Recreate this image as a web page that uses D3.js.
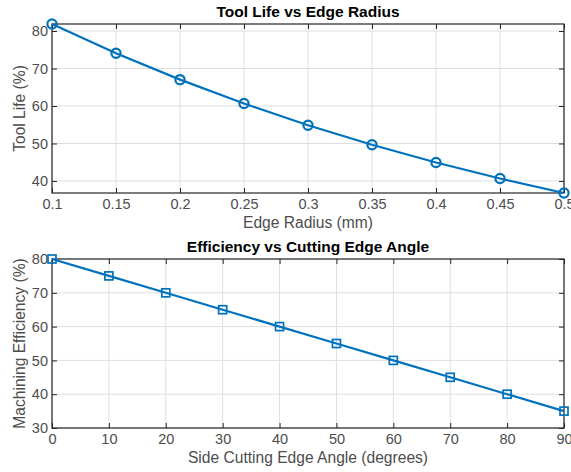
<!DOCTYPE html>
<html>
<head>
<meta charset="utf-8">
<script src="https://cdn.jsdelivr.net/npm/d3@7"></script>
<style>
  body { margin: 0; background: #fff; }
  svg { display: block; font-family: "Liberation Sans", Arial, sans-serif; }
</style>
</head>
<body>
<svg id="chart" width="571" height="472"></svg>
<script>
// Top panel: tool life vs edge radius
const edgeRadius = [0.1, 0.15, 0.2, 0.25, 0.3, 0.35, 0.4, 0.45, 0.5];
const toolLife = [81.87, 74.08, 67.03, 60.65, 54.88, 49.66, 44.93, 40.66, 36.79];
const radiusTicks = [0.1, 0.15, 0.2, 0.25, 0.3, 0.35, 0.4, 0.45, 0.5];
const lifeTicks = [40, 50, 60, 70, 80];

// Bottom panel: efficiency vs side cutting edge angle
const edgeAngle = [0, 10, 20, 30, 40, 50, 60, 70, 80, 90];
const efficiency = [80, 75, 70, 65, 60, 55, 50, 45, 40, 35];
const angleTicks = [0, 10, 20, 30, 40, 50, 60, 70, 80, 90];
const effTicks = [30, 40, 50, 60, 70, 80];

const svg = d3.select("#chart");
const lineColor = "#0072BD";
const axisColor = "#262626";
const tickText = "#4d4d4d";

function panel(opts) {
  const { top, bottom, left, right } = opts;
  const x = d3.scaleLinear().domain(opts.xDomain).range([left, right]);
  const y = d3.scaleLinear().domain(opts.yDomain).range([bottom, top]);
  const g = svg.append("g");

  // grid
  g.append("g").selectAll("line.gx").data(opts.xTicks).enter().append("line")
    .attr("x1", d => x(d)).attr("x2", d => x(d))
    .attr("y1", top).attr("y2", bottom)
    .attr("stroke", "#dfdfdf").attr("stroke-width", 1);
  g.append("g").selectAll("line.gy").data(opts.yTicks).enter().append("line")
    .attr("x1", left).attr("x2", right)
    .attr("y1", d => y(d)).attr("y2", d => y(d))
    .attr("stroke", "#dfdfdf").attr("stroke-width", 1);

  // axes (ticks pointing inward, MATLAB-like box)
  const tk = 5;
  const ax = g.append("g").attr("transform", `translate(0,${bottom})`)
    .call(d3.axisBottom(x).tickValues(opts.xTicks).tickSize(-tk).tickPadding(6).tickFormat(d3.format("~g")));
  const axTop = g.append("g").attr("transform", `translate(0,${top})`)
    .call(d3.axisTop(x).tickValues(opts.xTicks).tickSize(-tk).tickFormat(""));
  const ay = g.append("g").attr("transform", `translate(${left},0)`)
    .call(d3.axisLeft(y).tickValues(opts.yTicks).tickSize(-tk).tickPadding(4).tickFormat(d3.format("~g")));
  const ayR = g.append("g").attr("transform", `translate(${right},0)`)
    .call(d3.axisRight(y).tickValues(opts.yTicks).tickSize(-tk).tickFormat(""));
  [ax, axTop, ay, ayR].forEach(a => {
    a.select(".domain").remove();
    a.selectAll("line").attr("stroke", axisColor).attr("stroke-width", 1);
    a.selectAll("text").attr("fill", tickText).style("font-size", "14.5px");
  });

  // box
  g.append("rect").attr("x", left).attr("y", top)
    .attr("width", right - left).attr("height", bottom - top)
    .attr("fill", "none").attr("stroke", axisColor).attr("stroke-width", 1.2);

  // line
  const pts = opts.xs.map((v, i) => [v, opts.ys[i]]);
  g.append("path").datum(pts)
    .attr("d", d3.line().x(d => x(d[0])).y(d => y(d[1])))
    .attr("fill", "none").attr("stroke", lineColor).attr("stroke-width", 2.2);

  // markers
  if (opts.marker === "circle") {
    g.selectAll("circle.m").data(pts).enter().append("circle")
      .attr("cx", d => x(d[0])).attr("cy", d => y(d[1])).attr("r", 4.6)
      .attr("fill", "none").attr("stroke", lineColor).attr("stroke-width", 2.2);
  } else {
    g.selectAll("rect.m").data(pts).enter().append("rect")
      .attr("x", d => x(d[0]) - 4).attr("y", d => y(d[1]) - 4)
      .attr("width", 8).attr("height", 8)
      .attr("fill", "none").attr("stroke", lineColor).attr("stroke-width", 1.7);
  }

  // title
  g.append("text").attr("x", (left + right) / 2).attr("y", top - 7)
    .attr("text-anchor", "middle").attr("fill", "#000")
    .style("font-size", "15.5px").style("font-weight", "bold")
    .text(opts.title);
  // x label
  g.append("text").attr("x", (left + right) / 2).attr("y", bottom + 35)
    .attr("text-anchor", "middle").attr("fill", tickText)
    .style("font-size", "15.6px").text(opts.xLabel);
  // y label
  g.append("text")
    .attr("transform", `translate(${opts.yLabelX},${(top + bottom) / 2}) rotate(-90)`)
    .attr("text-anchor", "middle").attr("fill", tickText)
    .style("font-size", "15.6px").text(opts.yLabel);
}

panel({
  top: 24, bottom: 193, left: 52, right: 564,
  xDomain: [0.1, 0.5], yDomain: [d3.min(toolLife), d3.max(toolLife)],
  xTicks: radiusTicks, yTicks: lifeTicks,
  xs: edgeRadius, ys: toolLife, marker: "circle",
  title: "Tool Life vs Edge Radius", xLabel: "Edge Radius (mm)", yLabel: "Tool Life (%)",
  yLabelX: 25
});

panel({
  top: 259, bottom: 428, left: 52, right: 564,
  xDomain: [0, 90], yDomain: [30, 80],
  xTicks: angleTicks, yTicks: effTicks,
  xs: edgeAngle, ys: efficiency, marker: "square",
  title: "Efficiency vs Cutting Edge Angle", xLabel: "Side Cutting Edge Angle (degrees)", yLabel: "Machining Efficiency (%)",
  yLabelX: 25
});
</script>
</body>
</html>
